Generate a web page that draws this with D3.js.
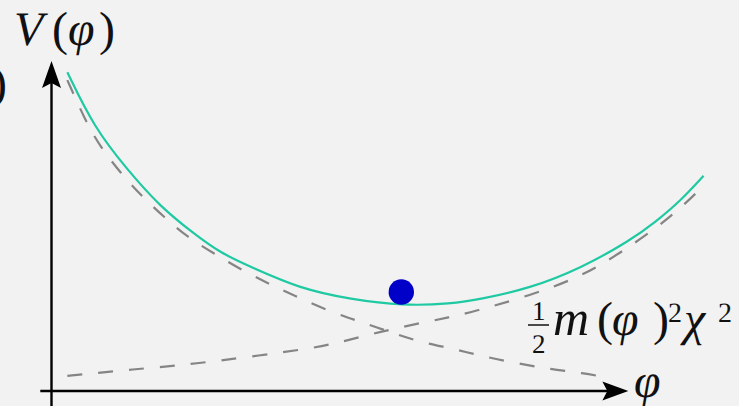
<!DOCTYPE html>
<html>
<head>
<meta charset="utf-8">
<script src="https://cdn.jsdelivr.net/npm/d3@7"></script>
<style>
  html, body { margin: 0; padding: 0; background: #f2f2f2; }
  svg { display: block; }
</style>
</head>
<body>
<svg id="chart" width="739" height="406"></svg>
<script>
// Sketch of a potential V(φ) (solid) with its two competing pieces (dashed).
// Points are [φ, V] pairs in arbitrary units.
const potential = [
  [0.24, 4.83], [0.64, 4.00], [1.15, 3.35], [1.65, 2.79], [2.15, 2.39],
  [2.56, 2.09], [3.02, 1.88], [3.77, 1.55], [4.53, 1.39], [5.33, 1.29],
  [6.05, 1.32], [6.50, 1.39], [7.26, 1.56], [8.02, 1.86], [8.77, 2.28],
  [9.15, 2.56], [9.53, 2.88], [9.88, 3.26]
];
const decaying = [
  [0.24, 4.71], [0.52, 4.08], [0.74, 3.70], [1.05, 3.30], [1.35, 2.97],
  [1.70, 2.64], [2.06, 2.33], [2.45, 2.09], [2.89, 1.83], [3.32, 1.61],
  [3.73, 1.42], [4.23, 1.20], [4.68, 1.05], [5.14, 0.89], [5.59, 0.74],
  [6.09, 0.64], [6.55, 0.52], [7.06, 0.42], [7.56, 0.33], [8.06, 0.27],
  [8.39, 0.21]
];
const growing = [
  [0.24, 0.23], [0.67, 0.27], [1.15, 0.32], [1.62, 0.36], [2.14, 0.41],
  [3.02, 0.52], [3.97, 0.65], [4.38, 0.74], [4.79, 0.85], [5.18, 0.94],
  [5.59, 1.03], [6.00, 1.11], [6.39, 1.20], [7.26, 1.45], [8.02, 1.73],
  [8.62, 2.09], [9.38, 2.62], [9.91, 3.14]
];
// field position of the ball resting near the minimum
const ball = [[5.30, 1.50]];

const svg = d3.select("#chart");
const x = d3.scaleLinear().domain([0, 10]).range([51.5, 711.5]);
const y = d3.scaleLinear().domain([0, 5]).range([391, 61]);

const line = d3.line()
  .x(d => x(d[0]))
  .y(d => y(d[1]))
  .curve(d3.curveBasis);

// axes
const axisColor = "#000";
const xEnd = 8.74, yEnd = 5.0;
svg.append("line")
  .attr("x1", x(-0.17)).attr("x2", x(xEnd) - 20)
  .attr("y1", y(0)).attr("y2", y(0))
  .attr("stroke", axisColor).attr("stroke-width", 2.4);
svg.append("line")
  .attr("x1", x(0)).attr("x2", x(0))
  .attr("y1", y(-0.3)).attr("y2", y(yEnd) + 20)
  .attr("stroke", axisColor).attr("stroke-width", 2.4);

// arrow heads
const hx = x(xEnd), hy = y(0);
svg.append("path")
  .attr("d", `M${hx},${hy} L${hx - 26},${hy - 9.5} L${hx - 21},${hy} L${hx - 26},${hy + 9.5} Z`)
  .attr("fill", axisColor);
const vx = x(0), vy = y(yEnd);
svg.append("path")
  .attr("d", `M${vx},${vy} L${vx - 9.5},${vy + 27} L${vx},${vy + 22} L${vx + 9.5},${vy + 27} Z`)
  .attr("fill", axisColor);

// dashed components
[decaying, growing].forEach(pts => {
  svg.append("path")
    .attr("d", line(pts))
    .attr("fill", "none")
    .attr("stroke", "#858585")
    .attr("stroke-width", 2.2)
    .attr("stroke-dasharray", "15,16");
});

// full potential
svg.append("path")
  .attr("d", line(potential))
  .attr("fill", "none")
  .attr("stroke", "#1fc9a2")
  .attr("stroke-width", 2.2);

// ball
svg.selectAll("circle.ball").data(ball).join("circle")
  .attr("class", "ball")
  .attr("cx", d => x(d[0])).attr("cy", d => y(d[1]))
  .attr("r", 12.7)
  .attr("fill", "#0000c8");

// labels: set at a base size of 30px and scaled up geometrically
const BASE = 30;
function put(txt, px, py, size, italic, anchor) {
  svg.append("text")
    .attr("transform", `translate(${px},${py}) scale(${size / BASE})`)
    .attr("text-rendering", "geometricPrecision")
    .attr("font-family", "Liberation Serif")
    .attr("font-style", italic ? "italic" : "normal")
    .attr("font-size", BASE)
    .attr("fill", "#111")
    .attr("text-anchor", anchor || "start")
    .text(txt);
}
// V(φ) on the vertical axis
put("V", 14, 45, 48, true);
put("(", 52, 45, 48, false);
put("φ", 68, 45, 48, true);
put(")", 99, 45, 48, false);

// part of a neighbouring label at the left edge
put(")", 7, 99, 48, false, "end");

// φ on the horizontal axis
put("φ", 634, 397, 48, true);

// ½ m(φ)² χ²
put("1", 532, 320, 27, false);
svg.append("line")
  .attr("x1", 528).attr("x2", 549).attr("y1", 325).attr("y2", 325)
  .attr("stroke", "#111").attr("stroke-width", 1.5);
put("2", 532, 353, 27, false);
put("m", 553, 335, 50, true);
put("(", 597, 335, 48, false);
put("φ", 612, 335, 48, true);
put(")", 653, 335, 48, false);
put("2", 668, 322, 28, false);
put("χ", 684, 335, 48, true);
put("2", 718, 322, 28, false);
</script>
</body>
</html>
